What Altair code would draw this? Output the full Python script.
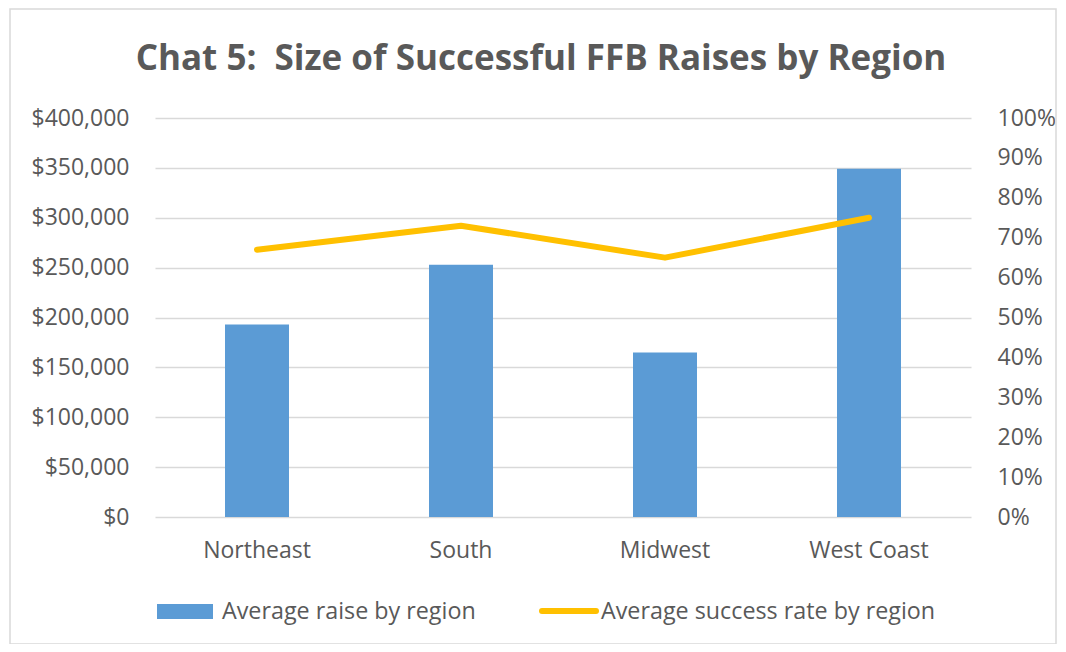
import altair as alt
import pandas as pd

regions = ["Northeast", "South", "Midwest", "West Coast"]
avg_raise = [193000, 253000, 165000, 349000]
success_rate = [0.67, 0.73, 0.65, 0.75]

title_text = "Chat 5:\u00a0\u00a0Size of Successful FFB Raises by Region"
legend_labels = ["Average raise by region", "Average success rate by region"]

df = pd.DataFrame({"region": regions, "raise": avg_raise, "rate": success_rate})

FONT = "Open Sans"
TXT = "#595959"
BLUE = "#5B9BD5"
GOLD = "#FFC000"
GRID = "#D9D9D9"

x_axis = alt.Axis(
    labelAngle=0, ticks=False, domain=False, grid=False,
    labelFont=FONT, labelFontSize=23, labelColor=TXT,
    labelBaseline="middle", labelPadding=33,
)

bars = alt.Chart(df).mark_bar(size=64, color=BLUE).encode(
    x=alt.X("region:N", sort=regions, title=None,
            scale=alt.Scale(paddingInner=0, paddingOuter=0), axis=x_axis),
    y=alt.Y(
        "raise:Q",
        title=None,
        scale=alt.Scale(domain=[0, 400000], nice=False),
        axis=alt.Axis(
            values=list(range(0, 400001, 50000)), format="$,.0f",
            ticks=False, domain=False, grid=True,
            gridColor=GRID, gridWidth=1.5,
            labelFont=FONT, labelFontSize=23, labelColor=TXT, labelPadding=26,
        ),
    ),
)

line = alt.Chart(df).mark_line(color=GOLD, strokeWidth=6, strokeCap="round", strokeJoin="round").encode(
    x=alt.X("region:N", sort=regions, title=None, axis=x_axis),
    y=alt.Y(
        "rate:Q",
        title=None,
        scale=alt.Scale(domain=[0, 1], nice=False),
        axis=alt.Axis(
            orient="right", values=[i / 10 for i in range(11)], format=".0%",
            ticks=False, domain=False, grid=False,
            labelFont=FONT, labelFontSize=23, labelColor=TXT, labelPadding=26,
        ),
    ),
)

one = pd.DataFrame({"k": [0]})

title = alt.Chart(one).mark_text(
    text=title_text, font=FONT, fontSize=35, fontWeight="bold", color=TXT,
    align="center", baseline="alphabetic",
).encode(x=alt.value(386), y=alt.value(-48))

border = alt.Chart(one).mark_rect(fill="transparent", stroke=GRID, strokeWidth=1.5).encode(
    x=alt.value(-145), x2=alt.value(901), y=alt.value(-109), y2=alt.value(526)
)

leg_rect = alt.Chart(one).mark_rect(color=BLUE).encode(
    x=alt.value(2), x2=alt.value(58), y=alt.value(486), y2=alt.value(501)
)
leg_line = alt.Chart(one).mark_rule(color=GOLD, strokeWidth=6, strokeCap="round").encode(
    x=alt.value(387), x2=alt.value(441), y=alt.value(493)
)
leg_t1 = alt.Chart(one).mark_text(
    text=legend_labels[0], font=FONT, fontSize=23.3, color=TXT, align="left", baseline="middle"
).encode(x=alt.value(67), y=alt.value(494))
leg_t2 = alt.Chart(one).mark_text(
    text=legend_labels[1], font=FONT, fontSize=23.3, color=TXT, align="left", baseline="middle"
).encode(x=alt.value(446), y=alt.value(494))

chart = (
    alt.layer(bars, line, title, border, leg_rect, leg_line, leg_t1, leg_t2)
    .resolve_scale(y="independent")
    .properties(
        width=816, height=399,
        autosize=alt.AutoSizeParams(type="none"),
        padding={"left": 147, "top": 110, "right": 87, "bottom": 127},
        view=alt.ViewBackground(stroke=None, strokeWidth=0),
    )
    .configure_view(stroke=None, strokeWidth=0)
    .configure_axis(domain=False, ticks=False)
    .configure(background="white")
)

chart.save("out.html", embed_options={"renderer": "svg", "actions": False})
